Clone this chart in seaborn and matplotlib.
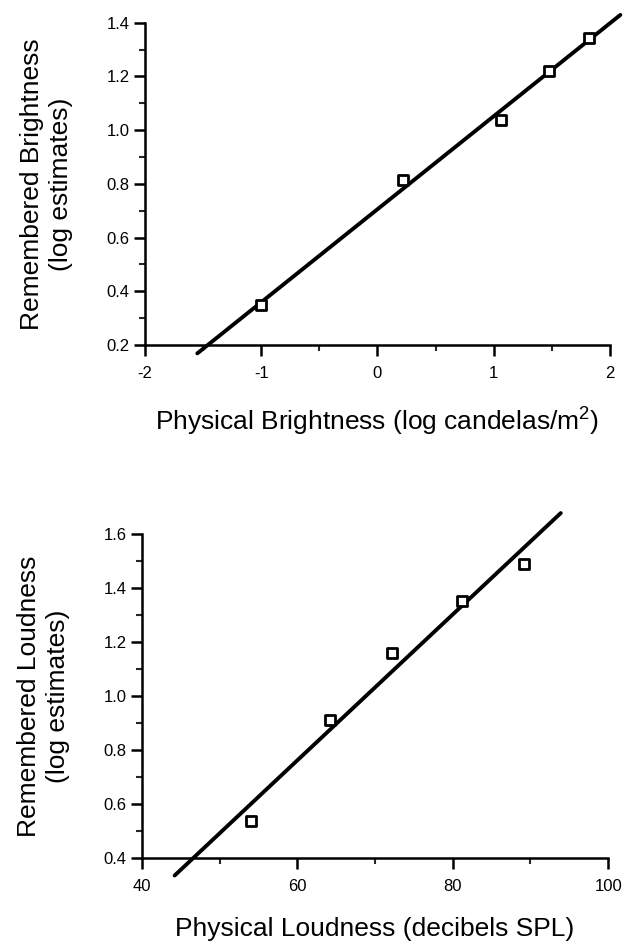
import numpy as np
import pandas as pd
import matplotlib
matplotlib.use("Agg")
import matplotlib.pyplot as plt
from matplotlib.ticker import MultipleLocator
import seaborn as sns

# ---------------- DATA ----------------

bright_x = [-1.0, 0.22, 1.06, 1.475, 1.82]
bright_y = [0.349, 0.816, 1.037, 1.222, 1.342]
bright_fit_range = [-1.55, 2.09]

loud_x = [54.0, 64.2, 72.2, 81.2, 89.2]
loud_y = [0.537, 0.911, 1.16, 1.352, 1.49]
loud_fit_range = [44.2, 93.9]

bright_xticks = [-2, -1, 0, 1, 2]
bright_yticks = [0.2, 0.4, 0.6, 0.8, 1.0, 1.2, 1.4]
loud_xticks = [40, 60, 80, 100]
loud_yticks = [0.4, 0.6, 0.8, 1.0, 1.2, 1.4, 1.6]

# ---------------- STYLE ----------------

sns.set_style("ticks")
plt.rcParams["font.family"] = ["Liberation Sans", "DejaVu Sans"]
plt.rcParams["mathtext.fontset"] = "custom"
plt.rcParams["mathtext.rm"] = "Liberation Sans"
plt.rcParams["mathtext.default"] = "regular"
plt.rcParams["axes.unicode_minus"] = False
plt.rcParams["text.color"] = "black"
plt.rcParams["axes.labelcolor"] = "black"

fig = plt.figure(figsize=(6.24, 9.48), dpi=100)
ax1 = fig.add_axes([0.2324, 0.636, 0.745, 0.340])
ax2 = fig.add_axes([0.2276, 0.0949, 0.747, 0.342])


def draw_panel(ax, xs, ys, fit_range, xticks, yticks, xminor, xlabel, ylabel, xpad):
    pts = pd.DataFrame({"x": xs, "y": ys})
    slope, icpt = np.polyfit(pts["x"], pts["y"], 1)
    fit = pd.DataFrame({"x": fit_range})
    fit["y"] = icpt + slope * fit["x"]

    sns.lineplot(data=fit, x="x", y="y", ax=ax, color="black", lw=2.8,
                 clip_on=False, zorder=2)
    sns.scatterplot(data=pts, x="x", y="y", ax=ax, marker="s", s=48,
                    facecolor="white", edgecolor="black", linewidth=2.0,
                    zorder=3, clip_on=False)

    ax.set_xlim(xticks[0], xticks[-1])
    ax.set_ylim(yticks[0], yticks[-1])
    ax.set_xticks(xticks)
    ax.set_yticks(yticks)
    ax.set_yticklabels(["{:.1f}".format(v) for v in yticks])
    ax.xaxis.set_minor_locator(MultipleLocator(xminor))
    ax.yaxis.set_minor_locator(MultipleLocator(0.1))

    sns.despine(ax=ax)
    for s in ["left", "bottom"]:
        ax.spines[s].set_linewidth(1.8)
        ax.spines[s].set_color("black")
    ax.tick_params(which="major", length=8, width=1.8, labelsize=12,
                   colors="black", direction="out")
    ax.tick_params(which="minor", length=4, width=1.5, direction="out")
    ax.tick_params(axis="y", which="major", pad=3)
    ax.tick_params(axis="x", which="major", pad=7)

    ax.set_xlabel(xlabel, fontsize=19, labelpad=xpad, color="black")
    ax.set_ylabel(ylabel, fontsize=19, labelpad=24, linespacing=1.3,
                  color="black")


draw_panel(ax1, bright_x, bright_y, bright_fit_range, bright_xticks,
           bright_yticks, 0.5,
           "Physical Brightness (log candelas/m$^{2}$)",
           "Remembered Brightness\n(log estimates)", 18)

draw_panel(ax2, loud_x, loud_y, loud_fit_range, loud_xticks,
           loud_yticks, 10,
           "Physical Loudness (decibels SPL)",
           "Remembered Loudness\n(log estimates)", 17)

fig.savefig("out.png", dpi=100)
